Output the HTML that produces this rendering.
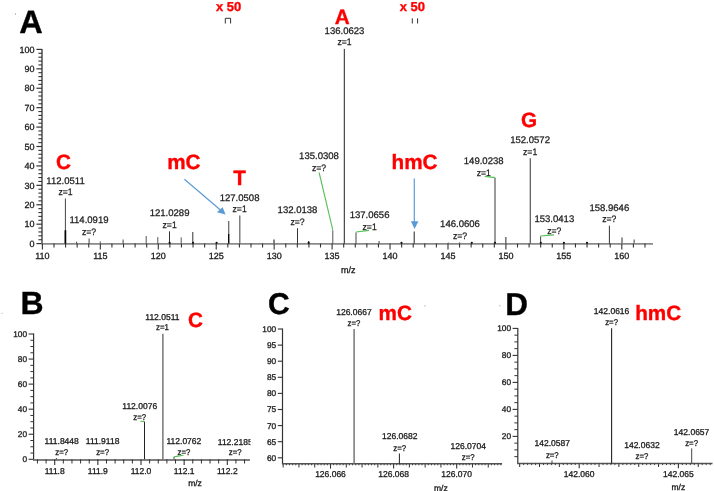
<!DOCTYPE html>
<html><head><meta charset="utf-8"><style>
html,body{margin:0;padding:0;background:#fff;}
body{width:714px;height:491px;overflow:hidden;position:relative;font-family:"Liberation Sans", sans-serif;}
svg{position:absolute;left:0;top:0;will-change:transform;text-rendering:geometricPrecision;}
</style></head><body>
<svg width="714" height="491" viewBox="0 0 714 491" font-family='"Liberation Sans", sans-serif'>
<text x="19.20" y="33.00" font-size="32.5" text-anchor="start" font-weight="bold" fill="#000" stroke="#000" stroke-width="0.35">A</text>
<line x1="42.00" y1="48.90" x2="42.00" y2="243.60" stroke="#333" stroke-width="1.3"/>
<line x1="36.40" y1="243.60" x2="42.00" y2="243.60" stroke="#333" stroke-width="1.2"/>
<text x="34.60" y="246.80" font-size="9" text-anchor="end" fill="#1a1a1a" stroke="#1a1a1a" stroke-width="0.3">0</text>
<line x1="38.40" y1="239.72" x2="42.00" y2="239.72" stroke="#333" stroke-width="1.1"/>
<line x1="38.40" y1="235.83" x2="42.00" y2="235.83" stroke="#333" stroke-width="1.1"/>
<line x1="38.40" y1="231.95" x2="42.00" y2="231.95" stroke="#333" stroke-width="1.1"/>
<line x1="38.40" y1="228.06" x2="42.00" y2="228.06" stroke="#333" stroke-width="1.1"/>
<line x1="36.40" y1="224.18" x2="42.00" y2="224.18" stroke="#333" stroke-width="1.2"/>
<text x="34.60" y="227.38" font-size="9" text-anchor="end" fill="#1a1a1a" stroke="#1a1a1a" stroke-width="0.3">10</text>
<line x1="38.40" y1="220.30" x2="42.00" y2="220.30" stroke="#333" stroke-width="1.1"/>
<line x1="38.40" y1="216.41" x2="42.00" y2="216.41" stroke="#333" stroke-width="1.1"/>
<line x1="38.40" y1="212.53" x2="42.00" y2="212.53" stroke="#333" stroke-width="1.1"/>
<line x1="38.40" y1="208.64" x2="42.00" y2="208.64" stroke="#333" stroke-width="1.1"/>
<line x1="36.40" y1="204.76" x2="42.00" y2="204.76" stroke="#333" stroke-width="1.2"/>
<text x="34.60" y="207.96" font-size="9" text-anchor="end" fill="#1a1a1a" stroke="#1a1a1a" stroke-width="0.3">20</text>
<line x1="38.40" y1="200.88" x2="42.00" y2="200.88" stroke="#333" stroke-width="1.1"/>
<line x1="38.40" y1="196.99" x2="42.00" y2="196.99" stroke="#333" stroke-width="1.1"/>
<line x1="38.40" y1="193.11" x2="42.00" y2="193.11" stroke="#333" stroke-width="1.1"/>
<line x1="38.40" y1="189.22" x2="42.00" y2="189.22" stroke="#333" stroke-width="1.1"/>
<line x1="36.40" y1="185.34" x2="42.00" y2="185.34" stroke="#333" stroke-width="1.2"/>
<text x="34.60" y="188.54" font-size="9" text-anchor="end" fill="#1a1a1a" stroke="#1a1a1a" stroke-width="0.3">30</text>
<line x1="38.40" y1="181.46" x2="42.00" y2="181.46" stroke="#333" stroke-width="1.1"/>
<line x1="38.40" y1="177.57" x2="42.00" y2="177.57" stroke="#333" stroke-width="1.1"/>
<line x1="38.40" y1="173.69" x2="42.00" y2="173.69" stroke="#333" stroke-width="1.1"/>
<line x1="38.40" y1="169.80" x2="42.00" y2="169.80" stroke="#333" stroke-width="1.1"/>
<line x1="36.40" y1="165.92" x2="42.00" y2="165.92" stroke="#333" stroke-width="1.2"/>
<text x="34.60" y="169.12" font-size="9" text-anchor="end" fill="#1a1a1a" stroke="#1a1a1a" stroke-width="0.3">40</text>
<line x1="38.40" y1="162.04" x2="42.00" y2="162.04" stroke="#333" stroke-width="1.1"/>
<line x1="38.40" y1="158.15" x2="42.00" y2="158.15" stroke="#333" stroke-width="1.1"/>
<line x1="38.40" y1="154.27" x2="42.00" y2="154.27" stroke="#333" stroke-width="1.1"/>
<line x1="38.40" y1="150.38" x2="42.00" y2="150.38" stroke="#333" stroke-width="1.1"/>
<line x1="36.40" y1="146.50" x2="42.00" y2="146.50" stroke="#333" stroke-width="1.2"/>
<text x="34.60" y="149.70" font-size="9" text-anchor="end" fill="#1a1a1a" stroke="#1a1a1a" stroke-width="0.3">50</text>
<line x1="38.40" y1="142.62" x2="42.00" y2="142.62" stroke="#333" stroke-width="1.1"/>
<line x1="38.40" y1="138.73" x2="42.00" y2="138.73" stroke="#333" stroke-width="1.1"/>
<line x1="38.40" y1="134.85" x2="42.00" y2="134.85" stroke="#333" stroke-width="1.1"/>
<line x1="38.40" y1="130.96" x2="42.00" y2="130.96" stroke="#333" stroke-width="1.1"/>
<line x1="36.40" y1="127.08" x2="42.00" y2="127.08" stroke="#333" stroke-width="1.2"/>
<text x="34.60" y="130.28" font-size="9" text-anchor="end" fill="#1a1a1a" stroke="#1a1a1a" stroke-width="0.3">60</text>
<line x1="38.40" y1="123.20" x2="42.00" y2="123.20" stroke="#333" stroke-width="1.1"/>
<line x1="38.40" y1="119.31" x2="42.00" y2="119.31" stroke="#333" stroke-width="1.1"/>
<line x1="38.40" y1="115.43" x2="42.00" y2="115.43" stroke="#333" stroke-width="1.1"/>
<line x1="38.40" y1="111.54" x2="42.00" y2="111.54" stroke="#333" stroke-width="1.1"/>
<line x1="36.40" y1="107.66" x2="42.00" y2="107.66" stroke="#333" stroke-width="1.2"/>
<text x="34.60" y="110.86" font-size="9" text-anchor="end" fill="#1a1a1a" stroke="#1a1a1a" stroke-width="0.3">70</text>
<line x1="38.40" y1="103.78" x2="42.00" y2="103.78" stroke="#333" stroke-width="1.1"/>
<line x1="38.40" y1="99.89" x2="42.00" y2="99.89" stroke="#333" stroke-width="1.1"/>
<line x1="38.40" y1="96.01" x2="42.00" y2="96.01" stroke="#333" stroke-width="1.1"/>
<line x1="38.40" y1="92.12" x2="42.00" y2="92.12" stroke="#333" stroke-width="1.1"/>
<line x1="36.40" y1="88.24" x2="42.00" y2="88.24" stroke="#333" stroke-width="1.2"/>
<text x="34.60" y="91.44" font-size="9" text-anchor="end" fill="#1a1a1a" stroke="#1a1a1a" stroke-width="0.3">80</text>
<line x1="38.40" y1="84.36" x2="42.00" y2="84.36" stroke="#333" stroke-width="1.1"/>
<line x1="38.40" y1="80.47" x2="42.00" y2="80.47" stroke="#333" stroke-width="1.1"/>
<line x1="38.40" y1="76.59" x2="42.00" y2="76.59" stroke="#333" stroke-width="1.1"/>
<line x1="38.40" y1="72.70" x2="42.00" y2="72.70" stroke="#333" stroke-width="1.1"/>
<line x1="36.40" y1="68.82" x2="42.00" y2="68.82" stroke="#333" stroke-width="1.2"/>
<text x="34.60" y="72.02" font-size="9" text-anchor="end" fill="#1a1a1a" stroke="#1a1a1a" stroke-width="0.3">90</text>
<line x1="38.40" y1="64.94" x2="42.00" y2="64.94" stroke="#333" stroke-width="1.1"/>
<line x1="38.40" y1="61.05" x2="42.00" y2="61.05" stroke="#333" stroke-width="1.1"/>
<line x1="38.40" y1="57.17" x2="42.00" y2="57.17" stroke="#333" stroke-width="1.1"/>
<line x1="38.40" y1="53.28" x2="42.00" y2="53.28" stroke="#333" stroke-width="1.1"/>
<line x1="36.40" y1="49.40" x2="42.00" y2="49.40" stroke="#333" stroke-width="1.2"/>
<text x="34.60" y="52.60" font-size="9" text-anchor="end" fill="#1a1a1a" stroke="#1a1a1a" stroke-width="0.3">100</text>
<line x1="41.40" y1="243.90" x2="653.00" y2="243.90" stroke="#8a8a8a" stroke-width="1.9"/>
<line x1="42.40" y1="243.60" x2="42.40" y2="249.50" stroke="#333" stroke-width="1.1"/>
<text x="42.40" y="259.00" font-size="9" text-anchor="middle" fill="#1a1a1a" stroke="#1a1a1a" stroke-width="0.3">110</text>
<line x1="53.99" y1="243.60" x2="53.99" y2="247.50" stroke="#333" stroke-width="1.1"/>
<line x1="65.58" y1="243.60" x2="65.58" y2="247.50" stroke="#333" stroke-width="1.1"/>
<line x1="77.16" y1="243.60" x2="77.16" y2="247.50" stroke="#333" stroke-width="1.1"/>
<line x1="88.75" y1="243.60" x2="88.75" y2="247.50" stroke="#333" stroke-width="1.1"/>
<line x1="100.34" y1="243.60" x2="100.34" y2="249.50" stroke="#333" stroke-width="1.1"/>
<text x="100.34" y="259.00" font-size="9" text-anchor="middle" fill="#1a1a1a" stroke="#1a1a1a" stroke-width="0.3">115</text>
<line x1="111.93" y1="243.60" x2="111.93" y2="247.50" stroke="#333" stroke-width="1.1"/>
<line x1="123.52" y1="243.60" x2="123.52" y2="247.50" stroke="#333" stroke-width="1.1"/>
<line x1="135.10" y1="243.60" x2="135.10" y2="247.50" stroke="#333" stroke-width="1.1"/>
<line x1="146.69" y1="243.60" x2="146.69" y2="247.50" stroke="#333" stroke-width="1.1"/>
<line x1="158.28" y1="243.60" x2="158.28" y2="249.50" stroke="#333" stroke-width="1.1"/>
<text x="158.28" y="259.00" font-size="9" text-anchor="middle" fill="#1a1a1a" stroke="#1a1a1a" stroke-width="0.3">120</text>
<line x1="169.87" y1="243.60" x2="169.87" y2="247.50" stroke="#333" stroke-width="1.1"/>
<line x1="181.46" y1="243.60" x2="181.46" y2="247.50" stroke="#333" stroke-width="1.1"/>
<line x1="193.04" y1="243.60" x2="193.04" y2="247.50" stroke="#333" stroke-width="1.1"/>
<line x1="204.63" y1="243.60" x2="204.63" y2="247.50" stroke="#333" stroke-width="1.1"/>
<line x1="216.22" y1="243.60" x2="216.22" y2="249.50" stroke="#333" stroke-width="1.1"/>
<text x="216.22" y="259.00" font-size="9" text-anchor="middle" fill="#1a1a1a" stroke="#1a1a1a" stroke-width="0.3">125</text>
<line x1="227.81" y1="243.60" x2="227.81" y2="247.50" stroke="#333" stroke-width="1.1"/>
<line x1="239.40" y1="243.60" x2="239.40" y2="247.50" stroke="#333" stroke-width="1.1"/>
<line x1="250.98" y1="243.60" x2="250.98" y2="247.50" stroke="#333" stroke-width="1.1"/>
<line x1="262.57" y1="243.60" x2="262.57" y2="247.50" stroke="#333" stroke-width="1.1"/>
<line x1="274.16" y1="243.60" x2="274.16" y2="249.50" stroke="#333" stroke-width="1.1"/>
<text x="274.16" y="259.00" font-size="9" text-anchor="middle" fill="#1a1a1a" stroke="#1a1a1a" stroke-width="0.3">130</text>
<line x1="285.75" y1="243.60" x2="285.75" y2="247.50" stroke="#333" stroke-width="1.1"/>
<line x1="297.34" y1="243.60" x2="297.34" y2="247.50" stroke="#333" stroke-width="1.1"/>
<line x1="308.92" y1="243.60" x2="308.92" y2="247.50" stroke="#333" stroke-width="1.1"/>
<line x1="320.51" y1="243.60" x2="320.51" y2="247.50" stroke="#333" stroke-width="1.1"/>
<line x1="332.10" y1="243.60" x2="332.10" y2="249.50" stroke="#333" stroke-width="1.1"/>
<text x="332.10" y="259.00" font-size="9" text-anchor="middle" fill="#1a1a1a" stroke="#1a1a1a" stroke-width="0.3">135</text>
<line x1="343.69" y1="243.60" x2="343.69" y2="247.50" stroke="#333" stroke-width="1.1"/>
<line x1="355.28" y1="243.60" x2="355.28" y2="247.50" stroke="#333" stroke-width="1.1"/>
<line x1="366.86" y1="243.60" x2="366.86" y2="247.50" stroke="#333" stroke-width="1.1"/>
<line x1="378.45" y1="243.60" x2="378.45" y2="247.50" stroke="#333" stroke-width="1.1"/>
<line x1="390.04" y1="243.60" x2="390.04" y2="249.50" stroke="#333" stroke-width="1.1"/>
<text x="390.04" y="259.00" font-size="9" text-anchor="middle" fill="#1a1a1a" stroke="#1a1a1a" stroke-width="0.3">140</text>
<line x1="401.63" y1="243.60" x2="401.63" y2="247.50" stroke="#333" stroke-width="1.1"/>
<line x1="413.22" y1="243.60" x2="413.22" y2="247.50" stroke="#333" stroke-width="1.1"/>
<line x1="424.80" y1="243.60" x2="424.80" y2="247.50" stroke="#333" stroke-width="1.1"/>
<line x1="436.39" y1="243.60" x2="436.39" y2="247.50" stroke="#333" stroke-width="1.1"/>
<line x1="447.98" y1="243.60" x2="447.98" y2="249.50" stroke="#333" stroke-width="1.1"/>
<text x="447.98" y="259.00" font-size="9" text-anchor="middle" fill="#1a1a1a" stroke="#1a1a1a" stroke-width="0.3">145</text>
<line x1="459.57" y1="243.60" x2="459.57" y2="247.50" stroke="#333" stroke-width="1.1"/>
<line x1="471.16" y1="243.60" x2="471.16" y2="247.50" stroke="#333" stroke-width="1.1"/>
<line x1="482.74" y1="243.60" x2="482.74" y2="247.50" stroke="#333" stroke-width="1.1"/>
<line x1="494.33" y1="243.60" x2="494.33" y2="247.50" stroke="#333" stroke-width="1.1"/>
<line x1="505.92" y1="243.60" x2="505.92" y2="249.50" stroke="#333" stroke-width="1.1"/>
<text x="505.92" y="259.00" font-size="9" text-anchor="middle" fill="#1a1a1a" stroke="#1a1a1a" stroke-width="0.3">150</text>
<line x1="517.51" y1="243.60" x2="517.51" y2="247.50" stroke="#333" stroke-width="1.1"/>
<line x1="529.10" y1="243.60" x2="529.10" y2="247.50" stroke="#333" stroke-width="1.1"/>
<line x1="540.68" y1="243.60" x2="540.68" y2="247.50" stroke="#333" stroke-width="1.1"/>
<line x1="552.27" y1="243.60" x2="552.27" y2="247.50" stroke="#333" stroke-width="1.1"/>
<line x1="563.86" y1="243.60" x2="563.86" y2="249.50" stroke="#333" stroke-width="1.1"/>
<text x="563.86" y="259.00" font-size="9" text-anchor="middle" fill="#1a1a1a" stroke="#1a1a1a" stroke-width="0.3">155</text>
<line x1="575.45" y1="243.60" x2="575.45" y2="247.50" stroke="#333" stroke-width="1.1"/>
<line x1="587.04" y1="243.60" x2="587.04" y2="247.50" stroke="#333" stroke-width="1.1"/>
<line x1="598.62" y1="243.60" x2="598.62" y2="247.50" stroke="#333" stroke-width="1.1"/>
<line x1="610.21" y1="243.60" x2="610.21" y2="247.50" stroke="#333" stroke-width="1.1"/>
<line x1="621.80" y1="243.60" x2="621.80" y2="249.50" stroke="#333" stroke-width="1.1"/>
<text x="621.80" y="259.00" font-size="9" text-anchor="middle" fill="#1a1a1a" stroke="#1a1a1a" stroke-width="0.3">160</text>
<line x1="633.39" y1="243.60" x2="633.39" y2="247.50" stroke="#333" stroke-width="1.1"/>
<line x1="644.98" y1="243.60" x2="644.98" y2="247.50" stroke="#333" stroke-width="1.1"/>
<text x="348.20" y="273.00" font-size="9" text-anchor="middle" fill="#1a1a1a" stroke="#1a1a1a" stroke-width="0.3">m/z</text>
<line x1="65.40" y1="198.50" x2="65.40" y2="243.60" stroke="#444" stroke-width="1.0"/>
<line x1="65.40" y1="230.30" x2="65.40" y2="243.60" stroke="#000" stroke-width="1.7"/>
<line x1="76.60" y1="241.70" x2="76.60" y2="243.60" stroke="#444" stroke-width="1"/>
<line x1="89.10" y1="238.50" x2="89.10" y2="243.60" stroke="#444" stroke-width="1"/>
<line x1="100.30" y1="241.30" x2="100.30" y2="243.60" stroke="#666" stroke-width="1"/>
<line x1="123.10" y1="239.50" x2="123.10" y2="243.60" stroke="#444" stroke-width="1"/>
<line x1="146.20" y1="236.00" x2="146.20" y2="243.60" stroke="#555" stroke-width="1"/>
<line x1="157.80" y1="237.10" x2="157.80" y2="243.60" stroke="#555" stroke-width="1"/>
<line x1="169.50" y1="231.30" x2="169.50" y2="243.60" stroke="#333" stroke-width="1"/>
<line x1="181.20" y1="237.40" x2="181.20" y2="243.60" stroke="#555" stroke-width="1"/>
<line x1="192.80" y1="232.00" x2="192.80" y2="243.60" stroke="#333" stroke-width="1"/>
<line x1="228.70" y1="221.10" x2="228.70" y2="243.60" stroke="#6a6a6a" stroke-width="1.3"/>
<line x1="228.70" y1="234.00" x2="228.70" y2="243.60" stroke="#000" stroke-width="1.2"/>
<line x1="239.80" y1="215.50" x2="239.80" y2="243.60" stroke="#6a6a6a" stroke-width="1.3"/>
<line x1="274.00" y1="239.50" x2="274.00" y2="243.60" stroke="#777" stroke-width="1.8"/>
<line x1="297.50" y1="228.20" x2="297.50" y2="243.60" stroke="#333" stroke-width="1"/>
<line x1="308.70" y1="241.00" x2="308.70" y2="243.60" stroke="#333" stroke-width="1"/>
<line x1="332.80" y1="230.30" x2="332.80" y2="243.60" stroke="#555" stroke-width="1"/>
<line x1="344.30" y1="48.90" x2="344.30" y2="243.60" stroke="#222" stroke-width="1"/>
<line x1="356.00" y1="232.40" x2="356.00" y2="243.60" stroke="#444" stroke-width="1"/>
<line x1="379.10" y1="241.00" x2="379.10" y2="243.60" stroke="#444" stroke-width="1"/>
<line x1="414.20" y1="231.50" x2="414.20" y2="243.60" stroke="#222" stroke-width="1"/>
<line x1="448.30" y1="242.50" x2="448.30" y2="243.60" stroke="#666" stroke-width="1"/>
<line x1="459.60" y1="242.30" x2="459.60" y2="243.60" stroke="#555" stroke-width="1"/>
<line x1="495.00" y1="177.90" x2="495.00" y2="243.60" stroke="#666" stroke-width="1.3"/>
<line x1="505.80" y1="237.10" x2="505.80" y2="243.60" stroke="#777" stroke-width="1.6"/>
<line x1="530.30" y1="158.20" x2="530.30" y2="243.60" stroke="#555" stroke-width="1.2"/>
<line x1="540.60" y1="236.30" x2="540.60" y2="243.60" stroke="#444" stroke-width="1"/>
<line x1="609.40" y1="225.70" x2="609.40" y2="243.60" stroke="#333" stroke-width="1"/>
<line x1="622.00" y1="237.40" x2="622.00" y2="243.60" stroke="#888" stroke-width="1.8"/>
<line x1="634.20" y1="239.50" x2="634.20" y2="243.60" stroke="#888" stroke-width="1.6"/>
<circle cx="216.6" cy="242.79999999999998" r="1.1" fill="#111"/>
<circle cx="401.5" cy="242.79999999999998" r="1.1" fill="#111"/>
<circle cx="471.8" cy="242.79999999999998" r="1.1" fill="#111"/>
<circle cx="540.8" cy="242.79999999999998" r="1.1" fill="#111"/>
<circle cx="563.9" cy="242.79999999999998" r="1.1" fill="#111"/>
<circle cx="308.7" cy="242.79999999999998" r="1.1" fill="#111"/>
<circle cx="587.0" cy="242.79999999999998" r="1.1" fill="#111"/>
<circle cx="495.0" cy="242.79999999999998" r="1.1" fill="#111"/>
<circle cx="169.6" cy="242.79999999999998" r="1.1" fill="#111"/>
<circle cx="193.0" cy="242.79999999999998" r="1.1" fill="#111"/>
<text x="65.50" y="183.70" font-size="9.55" text-anchor="middle" fill="#1a1a1a" stroke="#1a1a1a" stroke-width="0.25">112.0511</text>
<text transform="matrix(0.92,0,0,1.0,65.50,195.40)" font-size="9.4" text-anchor="middle" fill="#1a1a1a" stroke="#1a1a1a" stroke-width="0.25">z=1</text>
<text x="89.00" y="223.00" font-size="9.55" text-anchor="middle" fill="#1a1a1a" stroke="#1a1a1a" stroke-width="0.25">114.0919</text>
<text transform="matrix(0.92,0,0,1.0,89.00,235.20)" font-size="9.4" text-anchor="middle" fill="#1a1a1a" stroke="#1a1a1a" stroke-width="0.25">z=?</text>
<text x="169.60" y="216.10" font-size="9.55" text-anchor="middle" fill="#1a1a1a" stroke="#1a1a1a" stroke-width="0.25">121.0289</text>
<text transform="matrix(0.92,0,0,1.0,169.60,227.90)" font-size="9.4" text-anchor="middle" fill="#1a1a1a" stroke="#1a1a1a" stroke-width="0.25">z=1</text>
<text x="239.60" y="200.70" font-size="9.55" text-anchor="middle" fill="#1a1a1a" stroke="#1a1a1a" stroke-width="0.25">127.0508</text>
<text transform="matrix(0.92,0,0,1.0,239.60,212.40)" font-size="9.4" text-anchor="middle" fill="#1a1a1a" stroke="#1a1a1a" stroke-width="0.25">z=1</text>
<text x="297.50" y="213.00" font-size="9.55" text-anchor="middle" fill="#1a1a1a" stroke="#1a1a1a" stroke-width="0.25">132.0138</text>
<text transform="matrix(0.92,0,0,1.0,297.50,225.20)" font-size="9.4" text-anchor="middle" fill="#1a1a1a" stroke="#1a1a1a" stroke-width="0.25">z=?</text>
<text x="319.00" y="159.10" font-size="9.55" text-anchor="middle" fill="#1a1a1a" stroke="#1a1a1a" stroke-width="0.25">135.0308</text>
<text transform="matrix(0.92,0,0,1.0,319.00,171.20)" font-size="9.4" text-anchor="middle" fill="#1a1a1a" stroke="#1a1a1a" stroke-width="0.25">z=?</text>
<text x="344.50" y="33.90" font-size="9.55" text-anchor="middle" fill="#1a1a1a" stroke="#1a1a1a" stroke-width="0.25">136.0623</text>
<text transform="matrix(0.92,0,0,1.0,344.50,45.20)" font-size="9.4" text-anchor="middle" fill="#1a1a1a" stroke="#1a1a1a" stroke-width="0.25">z=1</text>
<text x="369.60" y="218.30" font-size="9.55" text-anchor="middle" fill="#1a1a1a" stroke="#1a1a1a" stroke-width="0.25">137.0656</text>
<text transform="matrix(0.92,0,0,1.0,369.60,229.60)" font-size="9.4" text-anchor="middle" fill="#1a1a1a" stroke="#1a1a1a" stroke-width="0.25">z=1</text>
<text x="460.00" y="226.50" font-size="9.55" text-anchor="middle" fill="#1a1a1a" stroke="#1a1a1a" stroke-width="0.25">146.0606</text>
<text transform="matrix(0.92,0,0,1.0,460.00,238.60)" font-size="9.4" text-anchor="middle" fill="#1a1a1a" stroke="#1a1a1a" stroke-width="0.25">z=?</text>
<text x="483.70" y="163.80" font-size="9.55" text-anchor="middle" fill="#1a1a1a" stroke="#1a1a1a" stroke-width="0.25">149.0238</text>
<text transform="matrix(0.92,0,0,1.0,483.70,175.50)" font-size="9.4" text-anchor="middle" fill="#1a1a1a" stroke="#1a1a1a" stroke-width="0.25">z=1</text>
<text x="530.10" y="143.00" font-size="9.55" text-anchor="middle" fill="#1a1a1a" stroke="#1a1a1a" stroke-width="0.25">152.0572</text>
<text transform="matrix(0.92,0,0,1.0,530.10,154.80)" font-size="9.4" text-anchor="middle" fill="#1a1a1a" stroke="#1a1a1a" stroke-width="0.25">z=1</text>
<text x="554.30" y="222.00" font-size="9.55" text-anchor="middle" fill="#1a1a1a" stroke="#1a1a1a" stroke-width="0.25">153.0413</text>
<text transform="matrix(0.92,0,0,1.0,554.30,234.00)" font-size="9.4" text-anchor="middle" fill="#1a1a1a" stroke="#1a1a1a" stroke-width="0.25">z=?</text>
<text x="609.30" y="210.60" font-size="9.55" text-anchor="middle" fill="#1a1a1a" stroke="#1a1a1a" stroke-width="0.25">158.9646</text>
<text transform="matrix(0.92,0,0,1.0,609.30,222.20)" font-size="9.4" text-anchor="middle" fill="#1a1a1a" stroke="#1a1a1a" stroke-width="0.25">z=?</text>
<line x1="319.10" y1="172.50" x2="332.80" y2="229.80" stroke="#55c055" stroke-width="1.1"/>
<line x1="356.00" y1="232.00" x2="369.00" y2="230.40" stroke="#55c055" stroke-width="1.1"/>
<line x1="484.80" y1="176.40" x2="495.30" y2="177.60" stroke="#55c055" stroke-width="1.1"/>
<line x1="540.60" y1="236.00" x2="554.00" y2="234.90" stroke="#55c055" stroke-width="1.1"/>
<text x="63.50" y="168.50" font-size="20.7" text-anchor="middle" font-weight="bold" fill="#ff0000" stroke="#ff0000" stroke-width="0.35">C</text>
<text x="183.90" y="169.00" font-size="20.7" text-anchor="middle" font-weight="bold" fill="#ff0000" stroke="#ff0000" stroke-width="0.35">mC</text>
<text x="239.60" y="184.70" font-size="20.7" text-anchor="middle" font-weight="bold" fill="#ff0000" stroke="#ff0000" stroke-width="0.35">T</text>
<text x="342.20" y="23.60" font-size="20.7" text-anchor="middle" font-weight="bold" fill="#ff0000" stroke="#ff0000" stroke-width="0.35">A</text>
<text x="414.50" y="168.90" font-size="20.7" text-anchor="middle" font-weight="bold" fill="#ff0000" stroke="#ff0000" stroke-width="0.35">hmC</text>
<text x="529.00" y="127.20" font-size="20.7" text-anchor="middle" font-weight="bold" fill="#ff0000" stroke="#ff0000" stroke-width="0.35">G</text>
<text x="228.70" y="10.50" font-size="13" text-anchor="middle" font-weight="bold" fill="#ff0000" stroke="#ff0000" stroke-width="0.35">x 50</text>
<text x="412.30" y="10.50" font-size="13" text-anchor="middle" font-weight="bold" fill="#ff0000" stroke="#ff0000" stroke-width="0.35">x 50</text>
<path d="M225.3 23.5 V18.3 H230.6 V23.5" fill="none" stroke="#333" stroke-width="1"/>
<line x1="412.30" y1="18.30" x2="412.30" y2="23.50" stroke="#333" stroke-width="1"/>
<line x1="417.60" y1="18.30" x2="417.60" y2="23.50" stroke="#333" stroke-width="1"/>
<line x1="184.40" y1="179.20" x2="220.50" y2="210.00" stroke="#5b9bd5" stroke-width="1.2"/>
<path d="M225.6 214.5 L216.9 212.2 L222.6 207.3 Z" fill="#5b9bd5"/>
<line x1="414.30" y1="178.60" x2="414.30" y2="222.00" stroke="#5b9bd5" stroke-width="1.2"/>
<path d="M410.9 221.2 L418.4 221.2 L414.6 228.9 Z" fill="#5b9bd5"/>
<text x="20.60" y="314.20" font-size="32" text-anchor="start" font-weight="bold" fill="#000" stroke="#000" stroke-width="0.35">B</text>
<line x1="33.60" y1="333.50" x2="33.60" y2="459.30" stroke="#333" stroke-width="1.2"/>
<line x1="28.60" y1="459.30" x2="33.60" y2="459.30" stroke="#333" stroke-width="1.1"/>
<text x="27.00" y="462.20" font-size="8.3" text-anchor="end" fill="#1a1a1a" stroke="#1a1a1a" stroke-width="0.3">0</text>
<line x1="30.40" y1="453.04" x2="33.60" y2="453.04" stroke="#333" stroke-width="1.0"/>
<line x1="30.40" y1="446.77" x2="33.60" y2="446.77" stroke="#333" stroke-width="1.0"/>
<line x1="30.40" y1="440.50" x2="33.60" y2="440.50" stroke="#333" stroke-width="1.0"/>
<line x1="28.60" y1="434.24" x2="33.60" y2="434.24" stroke="#333" stroke-width="1.1"/>
<text x="27.00" y="437.14" font-size="8.3" text-anchor="end" fill="#1a1a1a" stroke="#1a1a1a" stroke-width="0.3">20</text>
<line x1="30.40" y1="427.98" x2="33.60" y2="427.98" stroke="#333" stroke-width="1.0"/>
<line x1="30.40" y1="421.71" x2="33.60" y2="421.71" stroke="#333" stroke-width="1.0"/>
<line x1="30.40" y1="415.44" x2="33.60" y2="415.44" stroke="#333" stroke-width="1.0"/>
<line x1="28.60" y1="409.18" x2="33.60" y2="409.18" stroke="#333" stroke-width="1.1"/>
<text x="27.00" y="412.08" font-size="8.3" text-anchor="end" fill="#1a1a1a" stroke="#1a1a1a" stroke-width="0.3">40</text>
<line x1="30.40" y1="402.92" x2="33.60" y2="402.92" stroke="#333" stroke-width="1.0"/>
<line x1="30.40" y1="396.65" x2="33.60" y2="396.65" stroke="#333" stroke-width="1.0"/>
<line x1="30.40" y1="390.38" x2="33.60" y2="390.38" stroke="#333" stroke-width="1.0"/>
<line x1="28.60" y1="384.12" x2="33.60" y2="384.12" stroke="#333" stroke-width="1.1"/>
<text x="27.00" y="387.02" font-size="8.3" text-anchor="end" fill="#1a1a1a" stroke="#1a1a1a" stroke-width="0.3">60</text>
<line x1="30.40" y1="377.86" x2="33.60" y2="377.86" stroke="#333" stroke-width="1.0"/>
<line x1="30.40" y1="371.59" x2="33.60" y2="371.59" stroke="#333" stroke-width="1.0"/>
<line x1="30.40" y1="365.33" x2="33.60" y2="365.33" stroke="#333" stroke-width="1.0"/>
<line x1="28.60" y1="359.06" x2="33.60" y2="359.06" stroke="#333" stroke-width="1.1"/>
<text x="27.00" y="361.96" font-size="8.3" text-anchor="end" fill="#1a1a1a" stroke="#1a1a1a" stroke-width="0.3">80</text>
<line x1="30.40" y1="352.79" x2="33.60" y2="352.79" stroke="#333" stroke-width="1.0"/>
<line x1="30.40" y1="346.53" x2="33.60" y2="346.53" stroke="#333" stroke-width="1.0"/>
<line x1="30.40" y1="340.26" x2="33.60" y2="340.26" stroke="#333" stroke-width="1.0"/>
<line x1="28.60" y1="334.00" x2="33.60" y2="334.00" stroke="#333" stroke-width="1.1"/>
<text x="27.00" y="336.90" font-size="8.3" text-anchor="end" fill="#1a1a1a" stroke="#1a1a1a" stroke-width="0.3">100</text>
<line x1="33.00" y1="459.90" x2="250.00" y2="459.90" stroke="#555" stroke-width="1.5"/>
<line x1="37.44" y1="459.30" x2="37.44" y2="463.50" stroke="#333" stroke-width="1.0"/>
<line x1="46.07" y1="459.30" x2="46.07" y2="463.50" stroke="#333" stroke-width="1.0"/>
<line x1="54.70" y1="459.30" x2="54.70" y2="465.00" stroke="#333" stroke-width="1.1"/>
<text x="54.70" y="474.00" font-size="8.5" text-anchor="middle" fill="#1a1a1a" stroke="#1a1a1a" stroke-width="0.3">111.8</text>
<line x1="63.33" y1="459.30" x2="63.33" y2="463.50" stroke="#333" stroke-width="1.0"/>
<line x1="71.96" y1="459.30" x2="71.96" y2="463.50" stroke="#333" stroke-width="1.0"/>
<line x1="80.59" y1="459.30" x2="80.59" y2="463.50" stroke="#333" stroke-width="1.0"/>
<line x1="89.22" y1="459.30" x2="89.22" y2="463.50" stroke="#333" stroke-width="1.0"/>
<line x1="97.85" y1="459.30" x2="97.85" y2="465.00" stroke="#333" stroke-width="1.1"/>
<text x="97.85" y="474.00" font-size="8.5" text-anchor="middle" fill="#1a1a1a" stroke="#1a1a1a" stroke-width="0.3">111.9</text>
<line x1="106.48" y1="459.30" x2="106.48" y2="463.50" stroke="#333" stroke-width="1.0"/>
<line x1="115.11" y1="459.30" x2="115.11" y2="463.50" stroke="#333" stroke-width="1.0"/>
<line x1="123.74" y1="459.30" x2="123.74" y2="463.50" stroke="#333" stroke-width="1.0"/>
<line x1="132.37" y1="459.30" x2="132.37" y2="463.50" stroke="#333" stroke-width="1.0"/>
<line x1="141.00" y1="459.30" x2="141.00" y2="465.00" stroke="#333" stroke-width="1.1"/>
<text x="141.00" y="474.00" font-size="8.5" text-anchor="middle" fill="#1a1a1a" stroke="#1a1a1a" stroke-width="0.3">112.0</text>
<line x1="149.63" y1="459.30" x2="149.63" y2="463.50" stroke="#333" stroke-width="1.0"/>
<line x1="158.26" y1="459.30" x2="158.26" y2="463.50" stroke="#333" stroke-width="1.0"/>
<line x1="166.89" y1="459.30" x2="166.89" y2="463.50" stroke="#333" stroke-width="1.0"/>
<line x1="175.52" y1="459.30" x2="175.52" y2="463.50" stroke="#333" stroke-width="1.0"/>
<line x1="184.15" y1="459.30" x2="184.15" y2="465.00" stroke="#333" stroke-width="1.1"/>
<text x="184.15" y="474.00" font-size="8.5" text-anchor="middle" fill="#1a1a1a" stroke="#1a1a1a" stroke-width="0.3">112.1</text>
<line x1="192.78" y1="459.30" x2="192.78" y2="463.50" stroke="#333" stroke-width="1.0"/>
<line x1="201.41" y1="459.30" x2="201.41" y2="463.50" stroke="#333" stroke-width="1.0"/>
<line x1="210.04" y1="459.30" x2="210.04" y2="463.50" stroke="#333" stroke-width="1.0"/>
<line x1="218.67" y1="459.30" x2="218.67" y2="463.50" stroke="#333" stroke-width="1.0"/>
<line x1="227.30" y1="459.30" x2="227.30" y2="465.00" stroke="#333" stroke-width="1.1"/>
<text x="227.30" y="474.00" font-size="8.5" text-anchor="middle" fill="#1a1a1a" stroke="#1a1a1a" stroke-width="0.3">112.2</text>
<line x1="235.93" y1="459.30" x2="235.93" y2="463.50" stroke="#333" stroke-width="1.0"/>
<line x1="244.56" y1="459.30" x2="244.56" y2="463.50" stroke="#333" stroke-width="1.0"/>
<text x="195.00" y="486.00" font-size="8.5" text-anchor="middle" fill="#1a1a1a" stroke="#1a1a1a" stroke-width="0.3">m/z</text>
<line x1="162.90" y1="333.80" x2="162.90" y2="459.30" stroke="#555" stroke-width="1.2"/>
<line x1="144.50" y1="421.60" x2="144.50" y2="459.30" stroke="#222" stroke-width="1.0"/>
<line x1="56.40" y1="458.00" x2="56.40" y2="459.30" stroke="#444" stroke-width="1"/>
<line x1="174.00" y1="457.00" x2="174.00" y2="459.30" stroke="#444" stroke-width="1"/>
<clipPath id="clipB"><rect x="0" y="280" width="250.5" height="211"/></clipPath>
<g clip-path="url(#clipB)">
<text x="162.40" y="319.50" font-size="8.5" text-anchor="middle" fill="#1a1a1a" stroke="#1a1a1a" stroke-width="0.3">112.0511</text>
<text transform="matrix(0.92,0,0,1.0,162.40,330.30)" font-size="8.5" text-anchor="middle" fill="#1a1a1a" stroke="#1a1a1a" stroke-width="0.3">z=1</text>
<text x="139.70" y="409.40" font-size="8.5" text-anchor="middle" fill="#1a1a1a" stroke="#1a1a1a" stroke-width="0.3">112.0076</text>
<text transform="matrix(0.92,0,0,1.0,139.70,420.00)" font-size="8.5" text-anchor="middle" fill="#1a1a1a" stroke="#1a1a1a" stroke-width="0.3">z=?</text>
<text x="61.70" y="444.40" font-size="8.5" text-anchor="middle" fill="#1a1a1a" stroke="#1a1a1a" stroke-width="0.3">111.8448</text>
<text transform="matrix(0.92,0,0,1.0,61.70,455.30)" font-size="8.5" text-anchor="middle" fill="#1a1a1a" stroke="#1a1a1a" stroke-width="0.3">z=?</text>
<text x="102.60" y="444.40" font-size="8.5" text-anchor="middle" fill="#1a1a1a" stroke="#1a1a1a" stroke-width="0.3">111.9118</text>
<text transform="matrix(0.92,0,0,1.0,102.60,455.30)" font-size="8.5" text-anchor="middle" fill="#1a1a1a" stroke="#1a1a1a" stroke-width="0.3">z=?</text>
<text x="183.90" y="443.50" font-size="8.5" text-anchor="middle" fill="#1a1a1a" stroke="#1a1a1a" stroke-width="0.3">112.0762</text>
<text transform="matrix(0.92,0,0,1.0,183.90,454.50)" font-size="8.5" text-anchor="middle" fill="#1a1a1a" stroke="#1a1a1a" stroke-width="0.3">z=?</text>
<text x="235.20" y="444.70" font-size="8.5" text-anchor="middle" fill="#1a1a1a" stroke="#1a1a1a" stroke-width="0.3">112.2185</text>
<text transform="matrix(0.92,0,0,1.0,235.20,455.30)" font-size="8.5" text-anchor="middle" fill="#1a1a1a" stroke="#1a1a1a" stroke-width="0.3">z=?</text>
</g>
<line x1="140.40" y1="421.20" x2="144.70" y2="421.60" stroke="#55c055" stroke-width="1.1"/>
<line x1="173.70" y1="456.90" x2="183.50" y2="455.30" stroke="#55c055" stroke-width="1.1"/>
<text x="195.50" y="327.10" font-size="20.7" text-anchor="middle" font-weight="bold" fill="#ff0000" stroke="#ff0000" stroke-width="0.35">C</text>
<text x="267.90" y="314.20" font-size="30" text-anchor="start" font-weight="bold" fill="#000" stroke="#000" stroke-width="0.35">C</text>
<line x1="282.50" y1="328.50" x2="282.50" y2="463.70" stroke="#333" stroke-width="1.2"/>
<line x1="277.80" y1="457.80" x2="282.50" y2="457.80" stroke="#333" stroke-width="1.1"/>
<text x="276.20" y="460.70" font-size="8.3" text-anchor="end" fill="#1a1a1a" stroke="#1a1a1a" stroke-width="0.3">60</text>
<line x1="277.80" y1="441.70" x2="282.50" y2="441.70" stroke="#333" stroke-width="1.1"/>
<text x="276.20" y="444.60" font-size="8.3" text-anchor="end" fill="#1a1a1a" stroke="#1a1a1a" stroke-width="0.3">65</text>
<line x1="277.80" y1="425.60" x2="282.50" y2="425.60" stroke="#333" stroke-width="1.1"/>
<text x="276.20" y="428.50" font-size="8.3" text-anchor="end" fill="#1a1a1a" stroke="#1a1a1a" stroke-width="0.3">70</text>
<line x1="277.80" y1="409.50" x2="282.50" y2="409.50" stroke="#333" stroke-width="1.1"/>
<text x="276.20" y="412.40" font-size="8.3" text-anchor="end" fill="#1a1a1a" stroke="#1a1a1a" stroke-width="0.3">75</text>
<line x1="277.80" y1="393.40" x2="282.50" y2="393.40" stroke="#333" stroke-width="1.1"/>
<text x="276.20" y="396.30" font-size="8.3" text-anchor="end" fill="#1a1a1a" stroke="#1a1a1a" stroke-width="0.3">80</text>
<line x1="277.80" y1="377.30" x2="282.50" y2="377.30" stroke="#333" stroke-width="1.1"/>
<text x="276.20" y="380.20" font-size="8.3" text-anchor="end" fill="#1a1a1a" stroke="#1a1a1a" stroke-width="0.3">85</text>
<line x1="277.80" y1="361.20" x2="282.50" y2="361.20" stroke="#333" stroke-width="1.1"/>
<text x="276.20" y="364.10" font-size="8.3" text-anchor="end" fill="#1a1a1a" stroke="#1a1a1a" stroke-width="0.3">90</text>
<line x1="277.80" y1="345.10" x2="282.50" y2="345.10" stroke="#333" stroke-width="1.1"/>
<text x="276.20" y="348.00" font-size="8.3" text-anchor="end" fill="#1a1a1a" stroke="#1a1a1a" stroke-width="0.3">95</text>
<line x1="277.80" y1="329.00" x2="282.50" y2="329.00" stroke="#333" stroke-width="1.1"/>
<text x="276.20" y="331.90" font-size="8.3" text-anchor="end" fill="#1a1a1a" stroke="#1a1a1a" stroke-width="0.3">100</text>
<line x1="281.90" y1="463.70" x2="502.10" y2="463.70" stroke="#555" stroke-width="1.5"/>
<line x1="283.17" y1="463.70" x2="283.17" y2="467.50" stroke="#333" stroke-width="1.0"/>
<line x1="286.33" y1="463.70" x2="286.33" y2="465.30" stroke="#333" stroke-width="0.9"/>
<line x1="289.48" y1="463.70" x2="289.48" y2="465.30" stroke="#333" stroke-width="0.9"/>
<line x1="292.64" y1="463.70" x2="292.64" y2="465.30" stroke="#333" stroke-width="0.9"/>
<line x1="295.80" y1="463.70" x2="295.80" y2="465.30" stroke="#333" stroke-width="0.9"/>
<line x1="298.95" y1="463.70" x2="298.95" y2="467.50" stroke="#333" stroke-width="1.0"/>
<line x1="302.11" y1="463.70" x2="302.11" y2="465.30" stroke="#333" stroke-width="0.9"/>
<line x1="305.26" y1="463.70" x2="305.26" y2="465.30" stroke="#333" stroke-width="0.9"/>
<line x1="308.42" y1="463.70" x2="308.42" y2="465.30" stroke="#333" stroke-width="0.9"/>
<line x1="311.57" y1="463.70" x2="311.57" y2="465.30" stroke="#333" stroke-width="0.9"/>
<line x1="314.73" y1="463.70" x2="314.73" y2="467.50" stroke="#333" stroke-width="1.0"/>
<line x1="317.88" y1="463.70" x2="317.88" y2="465.30" stroke="#333" stroke-width="0.9"/>
<line x1="321.04" y1="463.70" x2="321.04" y2="465.30" stroke="#333" stroke-width="0.9"/>
<line x1="324.19" y1="463.70" x2="324.19" y2="465.30" stroke="#333" stroke-width="0.9"/>
<line x1="327.35" y1="463.70" x2="327.35" y2="465.30" stroke="#333" stroke-width="0.9"/>
<line x1="330.50" y1="463.70" x2="330.50" y2="468.60" stroke="#333" stroke-width="1.1"/>
<text x="330.50" y="477.00" font-size="8.5" text-anchor="middle" fill="#1a1a1a" stroke="#1a1a1a" stroke-width="0.3">126.066</text>
<line x1="333.66" y1="463.70" x2="333.66" y2="465.30" stroke="#333" stroke-width="0.9"/>
<line x1="336.81" y1="463.70" x2="336.81" y2="465.30" stroke="#333" stroke-width="0.9"/>
<line x1="339.97" y1="463.70" x2="339.97" y2="465.30" stroke="#333" stroke-width="0.9"/>
<line x1="343.12" y1="463.70" x2="343.12" y2="465.30" stroke="#333" stroke-width="0.9"/>
<line x1="346.28" y1="463.70" x2="346.28" y2="467.50" stroke="#333" stroke-width="1.0"/>
<line x1="349.43" y1="463.70" x2="349.43" y2="465.30" stroke="#333" stroke-width="0.9"/>
<line x1="352.59" y1="463.70" x2="352.59" y2="465.30" stroke="#333" stroke-width="0.9"/>
<line x1="355.74" y1="463.70" x2="355.74" y2="465.30" stroke="#333" stroke-width="0.9"/>
<line x1="358.90" y1="463.70" x2="358.90" y2="465.30" stroke="#333" stroke-width="0.9"/>
<line x1="362.05" y1="463.70" x2="362.05" y2="467.50" stroke="#333" stroke-width="1.0"/>
<line x1="365.21" y1="463.70" x2="365.21" y2="465.30" stroke="#333" stroke-width="0.9"/>
<line x1="368.36" y1="463.70" x2="368.36" y2="465.30" stroke="#333" stroke-width="0.9"/>
<line x1="371.52" y1="463.70" x2="371.52" y2="465.30" stroke="#333" stroke-width="0.9"/>
<line x1="374.67" y1="463.70" x2="374.67" y2="465.30" stroke="#333" stroke-width="0.9"/>
<line x1="377.83" y1="463.70" x2="377.83" y2="467.50" stroke="#333" stroke-width="1.0"/>
<line x1="380.98" y1="463.70" x2="380.98" y2="465.30" stroke="#333" stroke-width="0.9"/>
<line x1="384.14" y1="463.70" x2="384.14" y2="465.30" stroke="#333" stroke-width="0.9"/>
<line x1="387.29" y1="463.70" x2="387.29" y2="465.30" stroke="#333" stroke-width="0.9"/>
<line x1="390.45" y1="463.70" x2="390.45" y2="465.30" stroke="#333" stroke-width="0.9"/>
<line x1="393.60" y1="463.70" x2="393.60" y2="468.60" stroke="#333" stroke-width="1.1"/>
<text x="393.60" y="477.00" font-size="8.5" text-anchor="middle" fill="#1a1a1a" stroke="#1a1a1a" stroke-width="0.3">126.068</text>
<line x1="396.76" y1="463.70" x2="396.76" y2="465.30" stroke="#333" stroke-width="0.9"/>
<line x1="399.91" y1="463.70" x2="399.91" y2="465.30" stroke="#333" stroke-width="0.9"/>
<line x1="403.07" y1="463.70" x2="403.07" y2="465.30" stroke="#333" stroke-width="0.9"/>
<line x1="406.22" y1="463.70" x2="406.22" y2="465.30" stroke="#333" stroke-width="0.9"/>
<line x1="409.38" y1="463.70" x2="409.38" y2="467.50" stroke="#333" stroke-width="1.0"/>
<line x1="412.53" y1="463.70" x2="412.53" y2="465.30" stroke="#333" stroke-width="0.9"/>
<line x1="415.69" y1="463.70" x2="415.69" y2="465.30" stroke="#333" stroke-width="0.9"/>
<line x1="418.84" y1="463.70" x2="418.84" y2="465.30" stroke="#333" stroke-width="0.9"/>
<line x1="422.00" y1="463.70" x2="422.00" y2="465.30" stroke="#333" stroke-width="0.9"/>
<line x1="425.15" y1="463.70" x2="425.15" y2="467.50" stroke="#333" stroke-width="1.0"/>
<line x1="428.31" y1="463.70" x2="428.31" y2="465.30" stroke="#333" stroke-width="0.9"/>
<line x1="431.46" y1="463.70" x2="431.46" y2="465.30" stroke="#333" stroke-width="0.9"/>
<line x1="434.62" y1="463.70" x2="434.62" y2="465.30" stroke="#333" stroke-width="0.9"/>
<line x1="437.77" y1="463.70" x2="437.77" y2="465.30" stroke="#333" stroke-width="0.9"/>
<line x1="440.93" y1="463.70" x2="440.93" y2="467.50" stroke="#333" stroke-width="1.0"/>
<line x1="444.08" y1="463.70" x2="444.08" y2="465.30" stroke="#333" stroke-width="0.9"/>
<line x1="447.24" y1="463.70" x2="447.24" y2="465.30" stroke="#333" stroke-width="0.9"/>
<line x1="450.39" y1="463.70" x2="450.39" y2="465.30" stroke="#333" stroke-width="0.9"/>
<line x1="453.55" y1="463.70" x2="453.55" y2="465.30" stroke="#333" stroke-width="0.9"/>
<line x1="456.70" y1="463.70" x2="456.70" y2="468.60" stroke="#333" stroke-width="1.1"/>
<text x="456.70" y="477.00" font-size="8.5" text-anchor="middle" fill="#1a1a1a" stroke="#1a1a1a" stroke-width="0.3">126.070</text>
<line x1="459.86" y1="463.70" x2="459.86" y2="465.30" stroke="#333" stroke-width="0.9"/>
<line x1="463.01" y1="463.70" x2="463.01" y2="465.30" stroke="#333" stroke-width="0.9"/>
<line x1="466.17" y1="463.70" x2="466.17" y2="465.30" stroke="#333" stroke-width="0.9"/>
<line x1="469.32" y1="463.70" x2="469.32" y2="465.30" stroke="#333" stroke-width="0.9"/>
<line x1="472.48" y1="463.70" x2="472.48" y2="467.50" stroke="#333" stroke-width="1.0"/>
<line x1="475.63" y1="463.70" x2="475.63" y2="465.30" stroke="#333" stroke-width="0.9"/>
<line x1="478.79" y1="463.70" x2="478.79" y2="465.30" stroke="#333" stroke-width="0.9"/>
<line x1="481.94" y1="463.70" x2="481.94" y2="465.30" stroke="#333" stroke-width="0.9"/>
<line x1="485.10" y1="463.70" x2="485.10" y2="465.30" stroke="#333" stroke-width="0.9"/>
<line x1="488.25" y1="463.70" x2="488.25" y2="467.50" stroke="#333" stroke-width="1.0"/>
<line x1="491.41" y1="463.70" x2="491.41" y2="465.30" stroke="#333" stroke-width="0.9"/>
<line x1="494.56" y1="463.70" x2="494.56" y2="465.30" stroke="#333" stroke-width="0.9"/>
<line x1="497.72" y1="463.70" x2="497.72" y2="465.30" stroke="#333" stroke-width="0.9"/>
<line x1="500.87" y1="463.70" x2="500.87" y2="465.30" stroke="#333" stroke-width="0.9"/>
<text x="440.80" y="490.50" font-size="8.5" text-anchor="middle" fill="#1a1a1a" stroke="#1a1a1a" stroke-width="0.3">m/z</text>
<line x1="354.10" y1="329.00" x2="354.10" y2="463.70" stroke="#777" stroke-width="1.5"/>
<line x1="399.40" y1="453.50" x2="399.40" y2="463.70" stroke="#222" stroke-width="1.0"/>
<text x="353.90" y="314.90" font-size="8.5" text-anchor="middle" fill="#1a1a1a" stroke="#1a1a1a" stroke-width="0.3">126.0667</text>
<text transform="matrix(0.92,0,0,1.0,353.90,325.60)" font-size="8.5" text-anchor="middle" fill="#1a1a1a" stroke="#1a1a1a" stroke-width="0.3">z=?</text>
<text x="399.70" y="439.20" font-size="8.5" text-anchor="middle" fill="#1a1a1a" stroke="#1a1a1a" stroke-width="0.3">126.0682</text>
<text transform="matrix(0.92,0,0,1.0,399.70,450.50)" font-size="8.5" text-anchor="middle" fill="#1a1a1a" stroke="#1a1a1a" stroke-width="0.3">z=?</text>
<text x="468.20" y="449.00" font-size="8.5" text-anchor="middle" fill="#1a1a1a" stroke="#1a1a1a" stroke-width="0.3">126.0704</text>
<text transform="matrix(0.92,0,0,1.0,468.20,459.60)" font-size="8.5" text-anchor="middle" fill="#1a1a1a" stroke="#1a1a1a" stroke-width="0.3">z=?</text>
<text x="395.20" y="319.60" font-size="20.7" text-anchor="middle" font-weight="bold" fill="#ff0000" stroke="#ff0000" stroke-width="0.35">mC</text>
<text x="505.20" y="315.10" font-size="31.5" text-anchor="start" font-weight="bold" fill="#000" stroke="#000" stroke-width="0.35">D</text>
<line x1="517.80" y1="327.90" x2="517.80" y2="463.40" stroke="#333" stroke-width="1.2"/>
<line x1="514.40" y1="456.65" x2="517.80" y2="456.65" stroke="#333" stroke-width="1.0"/>
<line x1="514.40" y1="449.90" x2="517.80" y2="449.90" stroke="#333" stroke-width="1.0"/>
<line x1="514.40" y1="443.15" x2="517.80" y2="443.15" stroke="#333" stroke-width="1.0"/>
<line x1="512.60" y1="436.40" x2="517.80" y2="436.40" stroke="#333" stroke-width="1.1"/>
<text x="511.00" y="439.30" font-size="8.3" text-anchor="end" fill="#1a1a1a" stroke="#1a1a1a" stroke-width="0.3">20</text>
<line x1="514.40" y1="429.65" x2="517.80" y2="429.65" stroke="#333" stroke-width="1.0"/>
<line x1="514.40" y1="422.90" x2="517.80" y2="422.90" stroke="#333" stroke-width="1.0"/>
<line x1="514.40" y1="416.15" x2="517.80" y2="416.15" stroke="#333" stroke-width="1.0"/>
<line x1="512.60" y1="409.40" x2="517.80" y2="409.40" stroke="#333" stroke-width="1.1"/>
<text x="511.00" y="412.30" font-size="8.3" text-anchor="end" fill="#1a1a1a" stroke="#1a1a1a" stroke-width="0.3">40</text>
<line x1="514.40" y1="402.65" x2="517.80" y2="402.65" stroke="#333" stroke-width="1.0"/>
<line x1="514.40" y1="395.90" x2="517.80" y2="395.90" stroke="#333" stroke-width="1.0"/>
<line x1="514.40" y1="389.15" x2="517.80" y2="389.15" stroke="#333" stroke-width="1.0"/>
<line x1="512.60" y1="382.40" x2="517.80" y2="382.40" stroke="#333" stroke-width="1.1"/>
<text x="511.00" y="385.30" font-size="8.3" text-anchor="end" fill="#1a1a1a" stroke="#1a1a1a" stroke-width="0.3">60</text>
<line x1="514.40" y1="375.65" x2="517.80" y2="375.65" stroke="#333" stroke-width="1.0"/>
<line x1="514.40" y1="368.90" x2="517.80" y2="368.90" stroke="#333" stroke-width="1.0"/>
<line x1="514.40" y1="362.15" x2="517.80" y2="362.15" stroke="#333" stroke-width="1.0"/>
<line x1="512.60" y1="355.40" x2="517.80" y2="355.40" stroke="#333" stroke-width="1.1"/>
<text x="511.00" y="358.30" font-size="8.3" text-anchor="end" fill="#1a1a1a" stroke="#1a1a1a" stroke-width="0.3">80</text>
<line x1="514.40" y1="348.65" x2="517.80" y2="348.65" stroke="#333" stroke-width="1.0"/>
<line x1="514.40" y1="341.90" x2="517.80" y2="341.90" stroke="#333" stroke-width="1.0"/>
<line x1="514.40" y1="335.15" x2="517.80" y2="335.15" stroke="#333" stroke-width="1.0"/>
<line x1="512.60" y1="328.40" x2="517.80" y2="328.40" stroke="#333" stroke-width="1.1"/>
<text x="511.00" y="331.30" font-size="8.3" text-anchor="end" fill="#1a1a1a" stroke="#1a1a1a" stroke-width="0.3">100</text>
<line x1="517.20" y1="463.40" x2="712.50" y2="463.40" stroke="#555" stroke-width="1.5"/>
<line x1="519.68" y1="463.40" x2="519.68" y2="467.00" stroke="#333" stroke-width="1.0"/>
<line x1="523.65" y1="463.40" x2="523.65" y2="465.10" stroke="#333" stroke-width="0.9"/>
<line x1="527.62" y1="463.40" x2="527.62" y2="465.10" stroke="#333" stroke-width="0.9"/>
<line x1="531.58" y1="463.40" x2="531.58" y2="465.10" stroke="#333" stroke-width="0.9"/>
<line x1="535.55" y1="463.40" x2="535.55" y2="465.10" stroke="#333" stroke-width="0.9"/>
<line x1="539.52" y1="463.40" x2="539.52" y2="467.00" stroke="#333" stroke-width="1.0"/>
<line x1="543.49" y1="463.40" x2="543.49" y2="465.10" stroke="#333" stroke-width="0.9"/>
<line x1="547.46" y1="463.40" x2="547.46" y2="465.10" stroke="#333" stroke-width="0.9"/>
<line x1="551.42" y1="463.40" x2="551.42" y2="465.10" stroke="#333" stroke-width="0.9"/>
<line x1="555.39" y1="463.40" x2="555.39" y2="465.10" stroke="#333" stroke-width="0.9"/>
<line x1="559.36" y1="463.40" x2="559.36" y2="467.00" stroke="#333" stroke-width="1.0"/>
<line x1="563.33" y1="463.40" x2="563.33" y2="465.10" stroke="#333" stroke-width="0.9"/>
<line x1="567.30" y1="463.40" x2="567.30" y2="465.10" stroke="#333" stroke-width="0.9"/>
<line x1="571.26" y1="463.40" x2="571.26" y2="465.10" stroke="#333" stroke-width="0.9"/>
<line x1="575.23" y1="463.40" x2="575.23" y2="465.10" stroke="#333" stroke-width="0.9"/>
<line x1="579.20" y1="463.40" x2="579.20" y2="468.30" stroke="#333" stroke-width="1.1"/>
<text x="579.20" y="476.60" font-size="8.5" text-anchor="middle" fill="#1a1a1a" stroke="#1a1a1a" stroke-width="0.3">142.060</text>
<line x1="583.17" y1="463.40" x2="583.17" y2="465.10" stroke="#333" stroke-width="0.9"/>
<line x1="587.14" y1="463.40" x2="587.14" y2="465.10" stroke="#333" stroke-width="0.9"/>
<line x1="591.10" y1="463.40" x2="591.10" y2="465.10" stroke="#333" stroke-width="0.9"/>
<line x1="595.07" y1="463.40" x2="595.07" y2="465.10" stroke="#333" stroke-width="0.9"/>
<line x1="599.04" y1="463.40" x2="599.04" y2="467.00" stroke="#333" stroke-width="1.0"/>
<line x1="603.01" y1="463.40" x2="603.01" y2="465.10" stroke="#333" stroke-width="0.9"/>
<line x1="606.98" y1="463.40" x2="606.98" y2="465.10" stroke="#333" stroke-width="0.9"/>
<line x1="610.94" y1="463.40" x2="610.94" y2="465.10" stroke="#333" stroke-width="0.9"/>
<line x1="614.91" y1="463.40" x2="614.91" y2="465.10" stroke="#333" stroke-width="0.9"/>
<line x1="618.88" y1="463.40" x2="618.88" y2="467.00" stroke="#333" stroke-width="1.0"/>
<line x1="622.85" y1="463.40" x2="622.85" y2="465.10" stroke="#333" stroke-width="0.9"/>
<line x1="626.82" y1="463.40" x2="626.82" y2="465.10" stroke="#333" stroke-width="0.9"/>
<line x1="630.78" y1="463.40" x2="630.78" y2="465.10" stroke="#333" stroke-width="0.9"/>
<line x1="634.75" y1="463.40" x2="634.75" y2="465.10" stroke="#333" stroke-width="0.9"/>
<line x1="638.72" y1="463.40" x2="638.72" y2="467.00" stroke="#333" stroke-width="1.0"/>
<line x1="642.69" y1="463.40" x2="642.69" y2="465.10" stroke="#333" stroke-width="0.9"/>
<line x1="646.66" y1="463.40" x2="646.66" y2="465.10" stroke="#333" stroke-width="0.9"/>
<line x1="650.62" y1="463.40" x2="650.62" y2="465.10" stroke="#333" stroke-width="0.9"/>
<line x1="654.59" y1="463.40" x2="654.59" y2="465.10" stroke="#333" stroke-width="0.9"/>
<line x1="658.56" y1="463.40" x2="658.56" y2="467.00" stroke="#333" stroke-width="1.0"/>
<line x1="662.53" y1="463.40" x2="662.53" y2="465.10" stroke="#333" stroke-width="0.9"/>
<line x1="666.50" y1="463.40" x2="666.50" y2="465.10" stroke="#333" stroke-width="0.9"/>
<line x1="670.46" y1="463.40" x2="670.46" y2="465.10" stroke="#333" stroke-width="0.9"/>
<line x1="674.43" y1="463.40" x2="674.43" y2="465.10" stroke="#333" stroke-width="0.9"/>
<line x1="678.40" y1="463.40" x2="678.40" y2="468.30" stroke="#333" stroke-width="1.1"/>
<text x="678.40" y="476.60" font-size="8.5" text-anchor="middle" fill="#1a1a1a" stroke="#1a1a1a" stroke-width="0.3">142.065</text>
<line x1="682.37" y1="463.40" x2="682.37" y2="465.10" stroke="#333" stroke-width="0.9"/>
<line x1="686.34" y1="463.40" x2="686.34" y2="465.10" stroke="#333" stroke-width="0.9"/>
<line x1="690.30" y1="463.40" x2="690.30" y2="465.10" stroke="#333" stroke-width="0.9"/>
<line x1="694.27" y1="463.40" x2="694.27" y2="465.10" stroke="#333" stroke-width="0.9"/>
<line x1="698.24" y1="463.40" x2="698.24" y2="467.00" stroke="#333" stroke-width="1.0"/>
<line x1="702.21" y1="463.40" x2="702.21" y2="465.10" stroke="#333" stroke-width="0.9"/>
<line x1="706.18" y1="463.40" x2="706.18" y2="465.10" stroke="#333" stroke-width="0.9"/>
<line x1="710.14" y1="463.40" x2="710.14" y2="465.10" stroke="#333" stroke-width="0.9"/>
<text x="678.30" y="489.70" font-size="8.5" text-anchor="middle" fill="#1a1a1a" stroke="#1a1a1a" stroke-width="0.3">m/z</text>
<line x1="611.60" y1="328.20" x2="611.60" y2="463.40" stroke="#222" stroke-width="1.1"/>
<line x1="691.70" y1="448.40" x2="691.70" y2="463.40" stroke="#444" stroke-width="1.0"/>
<line x1="552.00" y1="460.50" x2="552.00" y2="463.40" stroke="#444" stroke-width="1"/>
<text x="611.60" y="314.00" font-size="8.5" text-anchor="middle" fill="#1a1a1a" stroke="#1a1a1a" stroke-width="0.3">142.0616</text>
<text transform="matrix(0.92,0,0,1.0,611.60,325.00)" font-size="8.5" text-anchor="middle" fill="#1a1a1a" stroke="#1a1a1a" stroke-width="0.3">z=?</text>
<text x="552.30" y="446.20" font-size="8.5" text-anchor="middle" fill="#1a1a1a" stroke="#1a1a1a" stroke-width="0.3">142.0587</text>
<text transform="matrix(0.92,0,0,1.0,552.30,457.60)" font-size="8.5" text-anchor="middle" fill="#1a1a1a" stroke="#1a1a1a" stroke-width="0.3">z=?</text>
<text x="641.90" y="448.10" font-size="8.5" text-anchor="middle" fill="#1a1a1a" stroke="#1a1a1a" stroke-width="0.3">142.0632</text>
<text transform="matrix(0.92,0,0,1.0,641.90,459.20)" font-size="8.5" text-anchor="middle" fill="#1a1a1a" stroke="#1a1a1a" stroke-width="0.3">z=?</text>
<text x="691.60" y="434.80" font-size="8.5" text-anchor="middle" fill="#1a1a1a" stroke="#1a1a1a" stroke-width="0.3">142.0657</text>
<text transform="matrix(0.92,0,0,1.0,691.60,445.70)" font-size="8.5" text-anchor="middle" fill="#1a1a1a" stroke="#1a1a1a" stroke-width="0.3">z=?</text>
<text x="658.20" y="320.30" font-size="20.7" text-anchor="middle" font-weight="bold" fill="#ff0000" stroke="#ff0000" stroke-width="0.35">hmC</text>
<rect x="15.0" y="13.5" width="1" height="1" fill="#888"/>
<rect x="1.5" y="312.9" width="1" height="1" fill="#7c7"/>
<rect x="499.3" y="305.3" width="1" height="1" fill="#88c"/>
<rect x="424.4" y="305.4" width="1" height="1" fill="#88c"/>
</svg>
</body></html>
